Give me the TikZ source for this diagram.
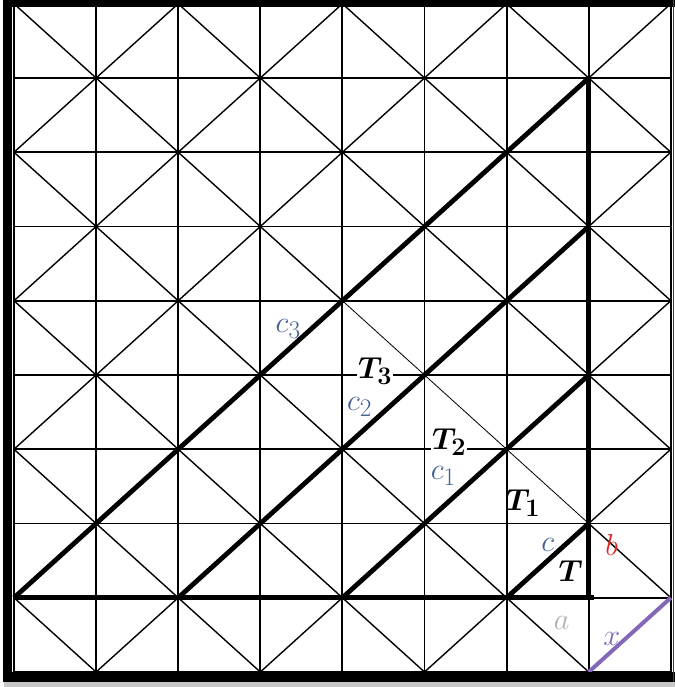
\documentclass[tikz,border=0pt]{standalone}
\usepackage{bm}
\definecolor{cblue}{RGB}{68,98,148}
\definecolor{bred}{RGB}{222,40,40}
\definecolor{agray}{RGB}{178,176,176}
\definecolor{xpurple}{RGB}{132,104,184}
\newcommand{\mylab}[1]{\scalebox{1.22}{#1}}
\begin{document}
\begin{tikzpicture}[x=82.1pt,y=74.25pt,
  gridline/.style={line width=1.9pt},
  diagline/.style={line width=1.4pt},
  thinseg/.style={line width=0.8pt},
  thickline/.style={line width=4.8pt},
  lbl/.style={inner sep=0pt, font=\fontsize{24.88}{28}\selectfont},
  tlbl/.style={lbl, fill=white, inner sep=1pt},
  ]
\useasboundingbox (-0.1705,-0.202) rectangle (8.051,9.0505);
% shadow under the frame
\fill[black!22] (-0.12,-0.202) rectangle (8.051,-0.13);
% diagonal lattice
\begin{scope}
  \clip (0,0) rectangle (8,8.956);
  \foreach \c in {-9,-7,...,7} \draw[diagline] (\c-1,-1) -- (\c+10,10);
  \foreach \c in {1,3,...,17} \draw[diagline] (\c+1,-1) -- (\c-10,10);
\end{scope}
% thinner segment
\coordinate (s1) at (4,5);
\coordinate (s2) at (7,2);
\draw[white, line width=2.4pt] (s1) -- (s2);
\draw[thinseg] (s1) -- (s2);
% square grid
\foreach \i in {0,...,8} \draw[gridline] (\i,0) -- (\i,8.956);
\foreach \j in {0,...,8} \draw[gridline] (0,\j) -- (8,\j);
% thick triangles
\coordinate (p0) at (0,1);
\coordinate (p2) at (2,1);
\coordinate (p4) at (4,1);
\coordinate (p6) at (6,1);
\coordinate (pe) at (7.07,1);
\coordinate (q1) at (7,1);
\coordinate (q2) at (7,2);
\coordinate (q4) at (7,4);
\coordinate (q6) at (7,6);
\coordinate (q8) at (7,8);
\draw[thickline] (p0) -- (pe);
\draw[thickline] (q1) -- (q8);
\draw[thickline] (p0) -- (q8);
\draw[thickline] (p2) -- (q6);
\draw[thickline] (p4) -- (q4);
\draw[thickline] (p6) -- (q2);
% purple segment
\coordinate (x1) at (7,0);
\coordinate (x2) at (8,1);
\draw[xpurple, line width=4pt] (x1) -- (x2);
% frame
\fill (-0.134,-0.135) rectangle (-0.024,9.0505);
\fill (-0.134,8.956) rectangle (8.051,9.0505);
\fill (-0.134,-0.135) rectangle (8.051,0);
\draw[black!75, line width=1.5pt] (8.03,-0.135) -- (8.03,9.0505);
% labels
\node[lbl, text=cblue] (lc3) at (3.34,4.62) {\mylab{$c_3$}};
\node[tlbl] (lT3) at (4.40,4.05) {\mylab{$\bm{T_3}$}};
\node[lbl, text=cblue] (lc2) at (4.21,3.57) {\mylab{$c_2$}};
\node[tlbl] (lT2) at (5.30,3.10) {\mylab{$\bm{T_2}$}};
\node[lbl, text=cblue] (lc1) at (5.23,2.64) {\mylab{$c_1$}};
\node[lbl] (lT1) at (6.20,2.27) {\mylab{$\bm{T_1}$}};
\node[lbl, text=cblue] (lc) at (6.50,1.71) {\mylab{$c$}};
\node[lbl] (lT) at (6.78,1.36) {\mylab{$\bm{T}$}};
\node[lbl, text=bred] (lb) at (7.28,1.71) {\mylab{$b$}};
\node[lbl, text=agray] (la) at (6.67,0.66) {\mylab{$a$}};
\node[lbl, text=xpurple] (lx) at (7.28,0.44) {\mylab{$x$}};
\end{tikzpicture}
\end{document}
